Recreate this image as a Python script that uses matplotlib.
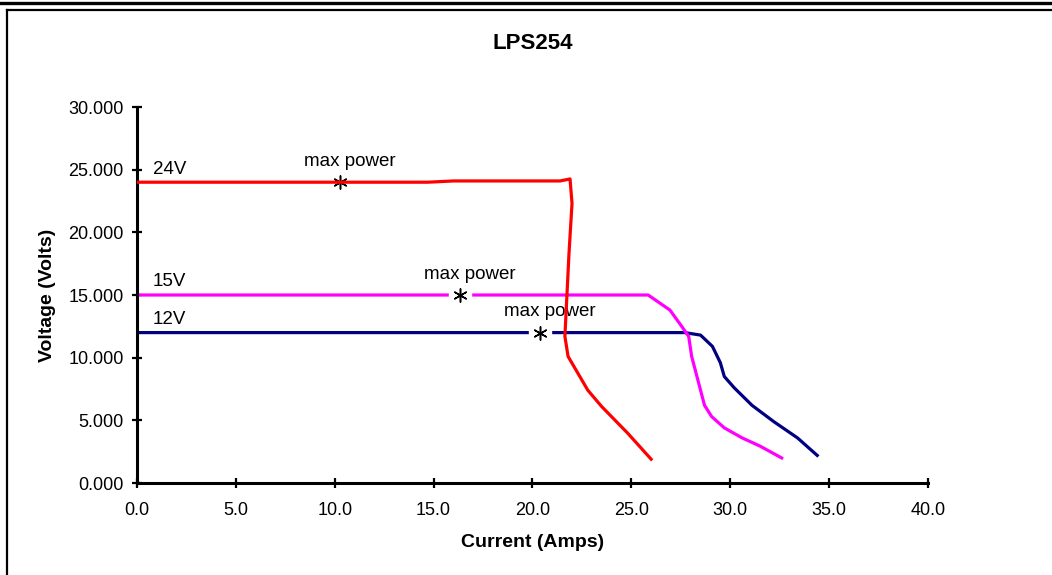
import matplotlib
matplotlib.use("Agg")
import matplotlib.pyplot as plt
from matplotlib.lines import Line2D
from matplotlib.ticker import FormatStrFormatter

plt.rcParams["font.family"] = ["Liberation Sans", "DejaVu Sans"]

# 24V supply
v24_amps = [0, 10.27, 14.7, 16.0, 21.4, 21.9, 22.0, 21.85, 21.64, 21.8, 22.8, 23.5, 24.8, 26.0]
v24_volts = [24.0, 24.0, 24.0, 24.1, 24.1, 24.26, 22.3, 18.4, 11.7, 10.1, 7.4, 6.1, 4.0, 1.9]

# 15V supply
v15_amps = [0, 16.33, 25.85, 26.95, 27.5, 27.9, 28.05, 28.7, 29.06, 29.7, 30.6, 31.5, 32.6]
v15_volts = [15.0, 15.0, 15.0, 13.8, 12.6, 11.7, 10.1, 6.2, 5.3, 4.4, 3.6, 2.95, 2.0]

# 12V supply
v12_amps = [0, 20.38, 27.7, 28.5, 29.1, 29.5, 29.7, 30.2, 31.1, 32.2, 33.4, 34.4]
v12_volts = [12.0, 12.0, 12.0, 11.8, 10.9, 9.6, 8.5, 7.6, 6.2, 4.9, 3.6, 2.2]

series_labels = ["24V", "15V", "12V"]
max_power_amps = [10.27, 16.33, 20.38]
max_power_volts = [24.0, 15.0, 12.0]

fig = plt.figure(figsize=(10.52, 5.75), dpi=100)
ax = fig.add_axes([0.1302, 0.16, 0.7519, 0.6539])

ax.plot(v12_amps, v12_volts, color="#000080", lw=2.3, zorder=2)
ax.plot(v15_amps, v15_volts, color="#FF00FF", lw=2.3, zorder=2.1)
ax.plot(v24_amps, v24_volts, color="#FF0000", lw=2.3, zorder=4)

# markers with white halo that cuts the line
ax.scatter(max_power_amps, max_power_volts, marker="s", s=260, color="white", zorder=2.5)
ax.scatter(max_power_amps, max_power_volts, marker=(6, 2, 0), s=90, color="black",
           linewidths=1.1, zorder=2.6)

for x, y in zip(max_power_amps, max_power_volts):
    ax.annotate("max power", (x, y), xytext=(7, 15), textcoords="offset points",
                ha="center", va="center", fontsize=13.5, zorder=3)

for lab, y in zip(series_labels, max_power_volts):
    ax.annotate(lab, (0, y), xytext=(11.5, 9.5), textcoords="offset points",
                ha="left", va="center", fontsize=13.5, zorder=3)

ax.set_xlim(0, 40)
ax.set_ylim(0, 30)
ax.set_xticks(range(0, 41, 5))
ax.set_yticks(range(0, 31, 5))
ax.xaxis.set_major_formatter(FormatStrFormatter("%.1f"))
ax.yaxis.set_major_formatter(FormatStrFormatter("%.3f"))
ax.tick_params(direction="inout", length=7, width=1.6, labelsize=13)
ax.tick_params(axis="x", pad=10)
ax.tick_params(axis="y", pad=6)

for s in ["top", "right"]:
    ax.spines[s].set_visible(False)
for s in ["left", "bottom"]:
    ax.spines[s].set_linewidth(2.2)

ax.set_title("LPS254", fontsize=16, fontweight="bold", pad=42)
ax.set_xlabel("Current (Amps)", fontsize=14, fontweight="bold", labelpad=11)
ax.set_ylabel("Voltage (Volts)", fontsize=14, fontweight="bold", labelpad=9)

# frame lines of the sheet
fig.add_artist(Line2D([0, 1], [1 - 2.5 / 575, 1 - 2.5 / 575], color="black", lw=2.4))
fig.add_artist(Line2D([6.5 / 1052, 1], [1 - 9.5 / 575, 1 - 9.5 / 575], color="black", lw=1.6))
fig.add_artist(Line2D([6.5 / 1052, 6.5 / 1052], [0, 1 - 9.5 / 575], color="black", lw=1.6))

fig.savefig("out.png", dpi=100)
